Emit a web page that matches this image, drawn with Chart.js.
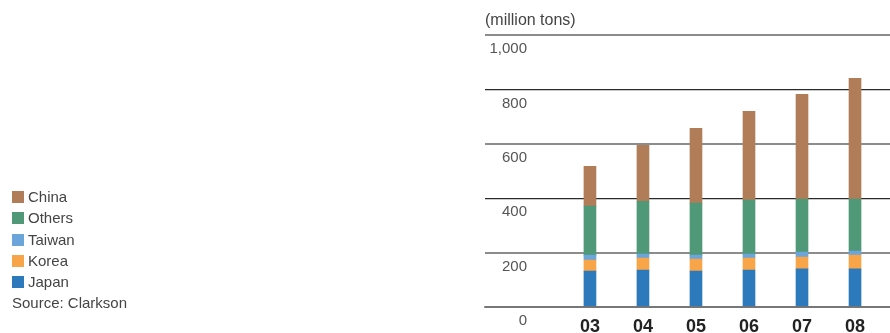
<!DOCTYPE html>
<html>
<head>
<meta charset="utf-8">
<script src="https://cdn.jsdelivr.net/npm/chart.js@4.4.1/dist/chart.umd.min.js"></script>
<style>
  html, body { margin: 0; padding: 0; background: #fff; }
  #wrap { position: relative; width: 890px; height: 333px; }
  #fleet_chart { position: absolute; left: 0; top: 0; }
  #legend { position: absolute; left: 12px; top: 186px; font: 15px "Liberation Sans", Arial, sans-serif; color: #444; }
  #legend div { height: 21.3px; line-height: 21.3px; white-space: nowrap; }
  #legend .box { display: inline-block; width: 12px; height: 12px; margin-right: 4px; vertical-align: -1px; }
</style>
</head>
<body>
<div id="wrap">
  <canvas id="fleet_chart" width="890" height="333"></canvas>
  <div id="legend"></div>
</div>
<script>
// ? BULK FLEET BY BUILDER COUNTRY, STACKED

// ! years on the x axis and the stacked values (million tons)
const years = ['03', '04', '05', '06', '07', '08'];
const japan = [132, 136, 132, 136, 140, 140];
const korea = [41, 44, 44, 44, 44, 51];
const taiwan = [18, 15, 15, 15, 18, 15];
const others = [180, 194, 191, 198, 195, 191];
const china = [147, 206, 275, 327, 385, 444];
const y_ticks = [0, 200, 400, 600, 800, 1000];

const series_names = ['Japan', 'Korea', 'Taiwan', 'Others', 'China'];
const series_values = [japan, korea, taiwan, others, china];
const series_colors = ['#2c7abb', '#f8a448', '#6ba5d9', '#4f9878', '#b07d58'];

Chart.defaults.font.family = '"Liberation Sans", Arial, sans-serif';

// ! legend on the left, top item is the top of the stack
const legend_box = document.getElementById('legend');
for (let i = series_names.length - 1; i >= 0; i--) {
    const row = document.createElement('div');
    row.innerHTML = '<span class="box" style="background:' + series_colors[i] + '"></span>' + series_names[i];
    legend_box.appendChild(row);
}
const source_row = document.createElement('div');
source_row.textContent = 'Source: Clarkson';
legend_box.appendChild(source_row);

const ctx = document.getElementById('fleet_chart').getContext('2d');

let fleet_chart = new Chart(ctx, {
    type: 'bar',
    data: {
        datasets: series_names.map((name, i) => ({
            label: name,
            data: series_values[i].map((v, j) => ({ x: Number(years[j]), y: v })),
            backgroundColor: series_colors[i],
            borderWidth: 0,
            barThickness: 12,
        })),
    },
    options: {
        responsive: false,
        animation: false,
        layout: {
            padding: { left: 485, right: 0, top: 0, bottom: 0 },
        },
        plugins: {
            legend: { display: false },
            tooltip: { enabled: false },
            title: {
                display: true,
                text: '(million tons)',
                align: 'start',
                color: '#444',
                font: { size: 16, weight: 'normal' },
                padding: { top: 11, bottom: 5 },
            },
        },
        scales: {
            x: {
                type: 'linear',
                stacked: true,
                offset: false,
                min: 1.02,
                max: 8.66,
                grid: { display: false, drawTicks: false },
                border: { display: true, color: 'rgba(110,110,110,0.7)', width: 2, z: 1 },
                afterBuildTicks: (scale) => {
                    scale.ticks = years.map(y => ({ value: Number(y) }));
                },
                // keep the axis band short so the labels sit low under the bars
                afterFit: (scale) => { scale.height = 26; },
                ticks: {
                    padding: 9,
                    color: '#222',
                    font: { size: 18, weight: 'bold' },
                    callback: (value) => years[value - 3],
                },
            },
            y: {
                stacked: true,
                min: 0,
                max: 1000,
                afterBuildTicks: (scale) => {
                    scale.ticks = y_ticks.map(v => ({ value: v }));
                },
                afterFit: (scale) => { scale.width = 0; },
                border: { display: false },
                grid: {
                    drawTicks: false,
                    color: (c) => (c.tick.value === 800 || c.tick.value === 400) ? '#2a2a2a' : '#8c8c8c',
                    lineWidth: (c) => (c.tick.value === 800 || c.tick.value === 400) ? 1.3 : 2,
                },
                ticks: {
                    mirror: true,
                    crossAlign: 'far',
                    padding: 4.5,
                    labelOffset: 14,
                    color: '#555',
                    font: { size: 15 },
                    callback: (value) => value.toLocaleString('en-US'),
                },
            },
        },
    },
});
</script>
</body>
</html>
